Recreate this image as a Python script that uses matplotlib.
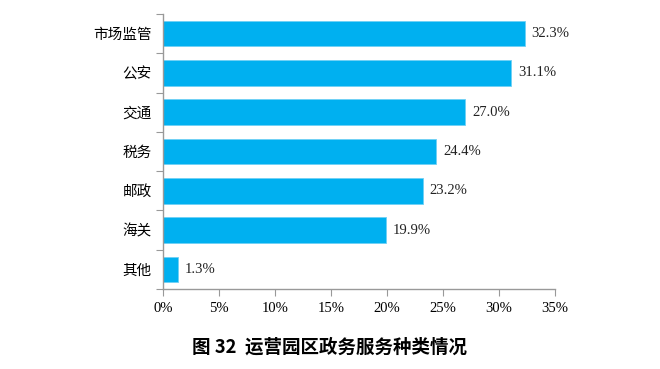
import matplotlib
matplotlib.use("Agg")
import matplotlib.pyplot as plt
import numpy as np

categories = ["市场监管", "公安", "交通", "税务", "邮政", "海关", "其他"]
values = [32.3, 31.1, 27.0, 24.4, 23.2, 19.9, 1.3]
xticks = [0, 5, 10, 15, 20, 25, 30, 35]
title = "图 32  运营园区政务服务种类情况"

fam = ['Liberation Serif', 'Noto Sans CJK SC']
fig = plt.figure(figsize=(6.6, 3.69), dpi=100)
ax = fig.add_axes([163/660, 1-289/369, (555-163)/660, (289-14)/369])

n = len(categories)
y = np.arange(n)
ax.barh(y, values, height=0.65, color='#00B0F0', edgecolor='#6FD0F5', linewidth=0.6)
for yi, v in zip(y, values):
    ax.text(v + 0.6, yi, f"{v:.1f}%", va='center', ha='left', fontsize=10.5, family=fam, color='#222222')

ax.set_ylim(n - 0.5, -0.5)
ax.set_xlim(0, 35)
ax.set_xticks(xticks)
ax.set_xticklabels([f"{t}%" for t in xticks], family=fam, fontsize=10.5)
ax.set_yticks(np.arange(-0.5, n, 1.0))
ax.set_yticklabels([])
ax.set_yticks(y, minor=True)
ax.set_yticklabels(categories, minor=True, family=fam, fontsize=10.5)
ax.tick_params(axis='y', which='minor', length=0, pad=8)
ax.tick_params(axis='y', which='major', length=5, color='#999999')
ax.tick_params(axis='x', length=5, color='#999999', pad=4)
for s in ['top', 'right']:
    ax.spines[s].set_visible(False)
for s in ['left', 'bottom']:
    ax.spines[s].set_color('#999999')
    ax.spines[s].set_linewidth(1.0)

fig.text(330/660, 1-347/369, title, ha='center', va='center', fontsize=13.3, fontweight='bold',
         family=['Noto Sans CJK SC', 'DejaVu Sans'])

fig.savefig("out.png", dpi=100)
